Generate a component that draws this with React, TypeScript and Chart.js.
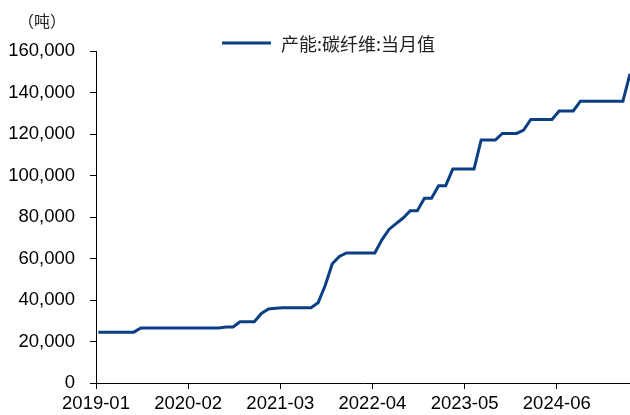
import React, { useEffect, useRef } from "react";
import { Chart, registerables } from "chart.js";

Chart.register(...registerables);

const months: string[] = [
  "2019-01","2019-02","2019-03","2019-04","2019-05","2019-06","2019-07","2019-08","2019-09","2019-10","2019-11","2019-12",
  "2020-01","2020-02","2020-03","2020-04","2020-05","2020-06","2020-07","2020-08","2020-09","2020-10","2020-11","2020-12",
  "2021-01","2021-02","2021-03","2021-04","2021-05","2021-06","2021-07","2021-08","2021-09","2021-10","2021-11","2021-12",
  "2022-01","2022-02","2022-03","2022-04","2022-05","2022-06","2022-07","2022-08","2022-09","2022-10","2022-11","2022-12",
  "2023-01","2023-02","2023-03","2023-04","2023-05","2023-06","2023-07","2023-08","2023-09","2023-10","2023-11","2023-12",
  "2024-01","2024-02","2024-03","2024-04","2024-05","2024-06","2024-07","2024-08","2024-09","2024-10","2024-11","2024-12",
  "2025-01","2025-02","2025-03","2025-04",
];

const capacity: number[] = [
  24500, 24500, 24500, 24500, 24500, 24500,
  26500, 26500, 26500, 26500, 26500, 26500, 26500, 26500, 26500, 26500, 26500, 26500,
  27000, 27000,
  29500, 29500, 29500,
  33500, 35700, 36000,
  36300, 36300, 36300, 36300, 36300,
  38700, 47000, 57500, 61000,
  62700, 62700, 62700, 62700, 62700,
  69000, 74000, 76800, 79500,
  83000, 83000,
  89000, 89000,
  95100, 95100,
  103100, 103100, 103100, 103100,
  117100, 117100, 117100,
  120300, 120300, 120300,
  121900,
  127000, 127000, 127000, 127000,
  131100, 131100, 131100,
  135800, 135800, 135800, 135800, 135800, 135800, 135800,
  149000,
];

// x ticks every 13 months, starting at 2019-01
const xTickMonths: string[] = ["2019-01", "2020-02", "2021-03", "2022-04", "2023-05", "2024-06"];
const yTicks: number[] = [0, 20000, 40000, 60000, 80000, 100000, 120000, 140000, 160000];
const seriesName = "产能:碳纤维:当月值";
const unitLabel = "（吨）";

// observations sit a little into each month on the date axis
const obsOffset = 0.33;

const LINE_COLOR = "#0b3f84";
const FONT = "'Liberation Sans', Arial, sans-serif";

const points = capacity.map((v, i) => ({ x: i + obsOffset, y: v }));

const overlayPlugin = {
  id: "overlay",
  afterDraw(chart: any) {
    const ctx = chart.ctx;
    ctx.save();
    ctx.fillStyle = "#222";
    ctx.font = "16px 'Noto Sans CJK SC', sans-serif";
    ctx.textBaseline = "middle";
    ctx.textAlign = "left";
    ctx.fillText(unitLabel, 18, 21);
    ctx.strokeStyle = LINE_COLOR;
    ctx.lineWidth = 3;
    ctx.beginPath();
    ctx.moveTo(222, 43);
    ctx.lineTo(271, 43);
    ctx.stroke();
    ctx.font = "18px 'Noto Sans CJK SC', sans-serif";
    ctx.fillStyle = "#222";
    ctx.fillText(seriesName, 281, 44);
    ctx.restore();
  },
};

export default function App() {
  const ref = useRef<HTMLCanvasElement>(null);
  useEffect(() => {
    if (!ref.current) return;
    const chart = new Chart(ref.current, {
      type: "line",
      data: {
        datasets: [
          {
            label: seriesName,
            data: points,
            borderColor: LINE_COLOR,
            backgroundColor: LINE_COLOR,
            borderWidth: 3,
            pointRadius: 0,
            tension: 0,
            fill: false,
          },
        ],
      },
      options: {
        animation: false,
        responsive: false,
        parsing: false,
        layout: { padding: { top: 51, right: 0, left: 0, bottom: 0 } },
        plugins: {
          legend: { display: false },
          tooltip: { enabled: false },
        },
        scales: {
          x: {
            type: "linear",
            min: 0,
            max: capacity.length - 1 + obsOffset,
            border: { display: true, color: "#000", width: 1 },
            grid: {
              drawOnChartArea: false,
              drawTicks: true,
              tickLength: 6,
              color: "#000",
            },
            afterBuildTicks: (scale: any) => {
              scale.ticks = xTickMonths.map((m) => ({ value: months.indexOf(m) }));
            },
            ticks: {
              autoSkip: false,
              maxRotation: 0,
              minRotation: 0,
              padding: 4,
              color: "#000",
              font: { family: FONT, size: 18.5 },
              callback: (v: any) => months[Math.round(Number(v))],
            },
            afterFit: (scale: any) => {
              scale.height = 32;
            },
          },
          y: {
            min: yTicks[0],
            max: yTicks[yTicks.length - 1],
            border: { display: true, color: "#000", width: 1 },
            grid: {
              drawOnChartArea: false,
              drawTicks: true,
              tickLength: 6,
              color: "#000",
            },
            afterBuildTicks: (scale: any) => {
              scale.ticks = yTicks.map((v) => ({ value: v }));
            },
            ticks: {
              padding: 15,
              color: "#000",
              font: { family: FONT, size: 18.5 },
              callback: (v: any) => Number(v).toLocaleString("en-US"),
            },
            afterFit: (scale: any) => {
              scale.width = 96;
            },
          },
        },
      },
      plugins: [overlayPlugin],
    });
    return () => chart.destroy();
  }, []);
  return (
    <div style={{ position: "fixed", left: 0, top: 0, width: 630, height: 415, background: "#fff" }}>
      <canvas ref={ref} width={630} height={415} style={{ display: "block" }} />
    </div>
  );
}
